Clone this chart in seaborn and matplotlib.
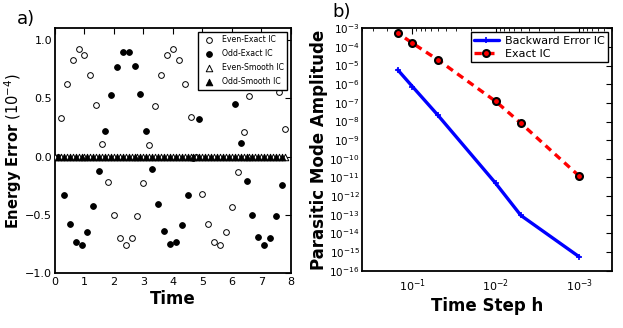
import matplotlib
matplotlib.use("Agg")
import matplotlib.pyplot as plt
import seaborn as sns
from matplotlib.ticker import LogLocator, NullLocator, LogFormatterMathtext, MultipleLocator

# ---- panel a) energy error, values in units of 1e-4 ----
even_time = [0.2, 0.4, 0.6, 0.8, 1.0, 1.2, 1.4, 1.6, 1.8, 2.0,
             2.2, 2.4, 2.6, 2.8, 3.0, 3.2, 3.4, 3.6, 3.8, 4.0,
             4.2, 4.4, 4.6, 4.8, 5.0, 5.2, 5.4, 5.6, 5.8, 6.0,
             6.2, 6.4, 6.6, 6.8, 7.0, 7.2, 7.4, 7.6, 7.8]
even_exact = [0.33, 0.62, 0.83, 0.92, 0.87, 0.70, 0.44, 0.11, -0.22, -0.50,
              -0.70, -0.76, -0.70, -0.51, -0.23, 0.10, 0.43, 0.70, 0.87, 0.92,
              0.83, 0.62, 0.34, 0.00, -0.32, -0.58, -0.73, -0.76, -0.65, -0.43,
              -0.13, 0.21, 0.52, 0.76, 0.90, 0.91, 0.80, 0.55, 0.24]

odd_time = [0.1, 0.3, 0.5, 0.7, 0.9, 1.1, 1.3, 1.5, 1.7, 1.9,
            2.1, 2.3, 2.5, 2.7, 2.9, 3.1, 3.3, 3.5, 3.7, 3.9,
            4.1, 4.3, 4.5, 4.7, 4.9, 5.1, 5.3, 5.5, 5.7, 5.9,
            6.1, 6.3, 6.5, 6.7, 6.9, 7.1, 7.3, 7.5, 7.7]
odd_exact = [0.00, -0.33, -0.58, -0.73, -0.76, -0.65, -0.42, -0.12, 0.22, 0.53,
             0.77, 0.90, 0.90, 0.78, 0.54, 0.22, -0.11, -0.41, -0.64, -0.75,
             -0.73, -0.59, -0.33, -0.01, 0.32, 0.61, 0.82, 0.92, 0.89, 0.72,
             0.45, 0.12, -0.21, -0.50, -0.69, -0.76, -0.70, -0.51, -0.24]

smooth_even_time = [0.0] + even_time
even_smooth = [0.0, 0.0, 0.0, 0.0, 0.0, 0.0, 0.0, 0.0, 0.0, 0.0,
               0.0, 0.0, 0.0, 0.0, 0.0, 0.0, 0.0, 0.0, 0.0, 0.0,
               0.0, 0.0, 0.0, 0.0, 0.0, 0.0, 0.0, 0.0, 0.0, 0.0,
               0.0, 0.0, 0.0, 0.0, 0.0, 0.0, 0.0, 0.0, 0.0, 0.0]
odd_smooth = [0.0, 0.0, 0.0, 0.0, 0.0, 0.0, 0.0, 0.0, 0.0, 0.0,
              0.0, 0.0, 0.0, 0.0, 0.0, 0.0, 0.0, 0.0, 0.0, 0.0,
              0.0, 0.0, 0.0, 0.0, 0.0, 0.0, 0.0, 0.0, 0.0, 0.0,
              0.0, 0.0, 0.0, 0.0, 0.0, 0.0, 0.0, 0.0, 0.0]

# ---- panel b) parasitic mode amplitude vs time step ----
step_h = [0.15, 0.1, 0.05, 0.01, 0.005, 0.001]
backward_ic = [5.9e-6, 7.5e-7, 2.3e-8, 4.8e-12, 9.2e-14, 5.6e-16]
exact_ic = [5.6e-4, 1.6e-4, 2.1e-5, 1.2e-7, 8.1e-9, 1.2e-11]

sns.set_style("white")
plt.rcParams["font.family"] = ["DejaVu Sans"]
plt.rcParams["mathtext.fontset"] = "dejavusans"
for key in ("text.color", "axes.labelcolor", "xtick.color", "ytick.color"):
    plt.rcParams[key] = "black"

fig = plt.figure(figsize=(6.23, 3.28), dpi=100)
ax1 = fig.add_axes([0.0883, 0.1668, 0.3783, 0.7469])
ax2 = fig.add_axes([0.5815, 0.1747, 0.4013, 0.739])

# left panel
sns.scatterplot(x=even_time, y=even_exact, ax=ax1, marker="o", s=17,
                color="white", edgecolor="black", linewidth=0.7,
                label="Even-Exact IC", zorder=3)
sns.scatterplot(x=odd_time, y=odd_exact, ax=ax1, marker="o", s=17,
                color="black", edgecolor="black", linewidth=0.7,
                label="Odd-Exact IC", zorder=3)
sns.scatterplot(x=smooth_even_time, y=even_smooth, ax=ax1, marker="^", s=22,
                color="white", edgecolor="black", linewidth=0.7,
                label="Even-Smooth IC", zorder=4)
sns.scatterplot(x=odd_time, y=odd_smooth, ax=ax1, marker="^", s=22,
                color="black", edgecolor="black", linewidth=0.7,
                label="Odd-Smooth IC", zorder=4)

ax1.set_xlim(0, 8)
ax1.set_ylim(-1.0, 1.1)
ax1.xaxis.set_major_locator(MultipleLocator(1))
ax1.yaxis.set_major_locator(MultipleLocator(0.5))
ax1.set_xlabel("Time", fontsize=12, fontweight="bold", labelpad=2)
ax1.set_ylabel(r"Energy Error $(10^{-4})$", fontsize=10.5, fontweight="bold")
ax1.yaxis.set_label_coords(-0.132, 0.5)
leg1 = ax1.legend(loc="upper right", fontsize=5.6, frameon=True, fancybox=False,
                  edgecolor="black", framealpha=1, borderaxespad=0.5,
                  labelspacing=0.65, handletextpad=0.6, borderpad=0.4)
leg1.get_frame().set_linewidth(1.0)
leg1.set_zorder(10)

# right panel
sns.lineplot(x=step_h, y=backward_ic, ax=ax2, color="#0000ff", linewidth=2.4,
             marker="+", markersize=5, markeredgewidth=1.2, markeredgecolor="#0000ff",
             label="Backward Error IC")
sns.lineplot(x=step_h, y=exact_ic, ax=ax2, color="#ff0000", linewidth=2.4,
             linestyle=(0, (2.2, 1.6)), marker="o", markersize=5,
             markerfacecolor="#ff0000", markeredgecolor="black", markeredgewidth=1.5,
             label="Exact IC")
ax2.set_xscale("log")
ax2.set_yscale("log")
ax2.set_xlim(0.4, 4e-4)
ax2.set_ylim(1e-16, 1e-3)
ax2.yaxis.set_major_locator(LogLocator(base=10, numticks=30))
ax2.yaxis.set_major_formatter(LogFormatterMathtext())
ax2.yaxis.set_minor_locator(NullLocator())
ax2.set_xlabel("Time Step h", fontsize=12, fontweight="bold", labelpad=2)
ax2.set_ylabel("Parasitic Mode Amplitude", fontsize=12, fontweight="bold", labelpad=1)
leg2 = ax2.legend(loc="upper right", fontsize=8, frameon=True, fancybox=False,
                  edgecolor="black", framealpha=1, borderaxespad=0.35,
                  labelspacing=0.3, handlelength=2.2, handletextpad=0.6, borderpad=0.3)
leg2.get_frame().set_linewidth(1.0)

for ax in (ax1, ax2):
    for sp in ax.spines.values():
        sp.set_linewidth(1.3)
        sp.set_color("black")
    ax.tick_params(which="major", direction="in", top=True, right=True,
                   length=4, width=0.8, labelsize=8, pad=3, color="black")
    ax.tick_params(which="minor", direction="in", top=True, right=True,
                   length=2, width=0.6, color="black")
ax1.tick_params(axis="y", which="major", pad=2)
ax2.tick_params(axis="y", which="major", labelsize=7.5, pad=2)
ax2.tick_params(axis="x", which="major", labelsize=8, pad=5)

fig.text(0.027, 0.97, "a)", fontsize=13, va="top")
fig.text(0.533, 0.99, "b)", fontsize=13, va="top")

fig.savefig("out.png", dpi=100)
plt.close(fig)
